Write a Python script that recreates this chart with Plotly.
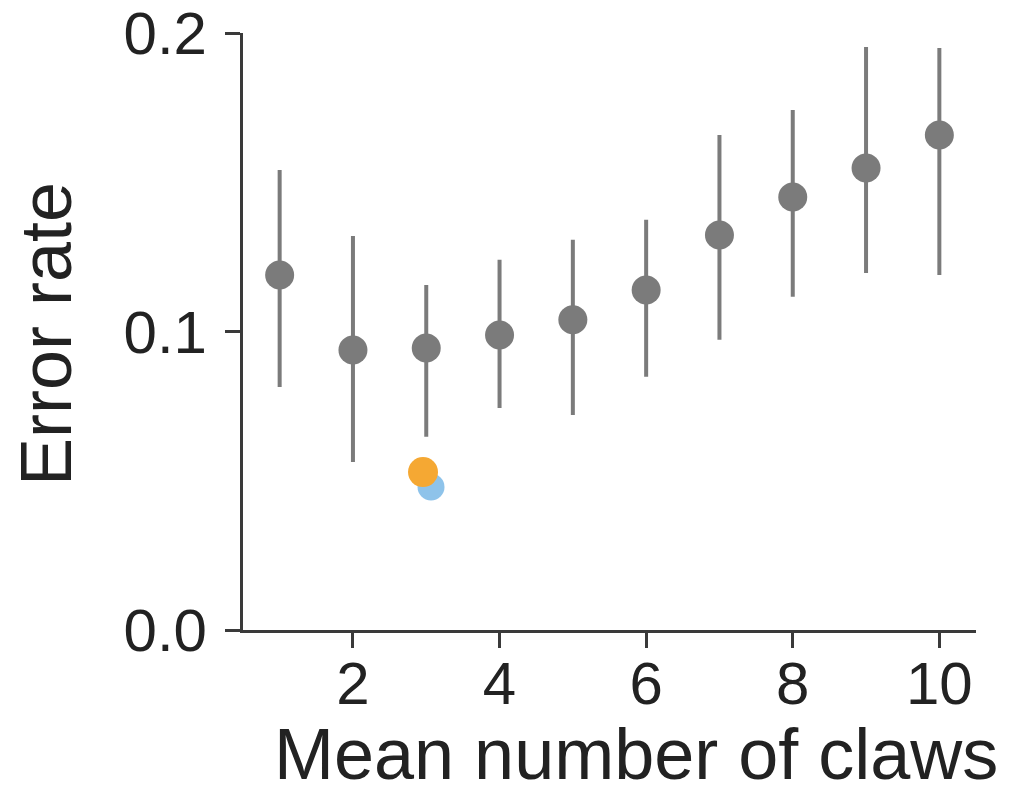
import plotly.graph_objects as go

claws = [1, 2, 3, 4, 5, 6, 7, 8, 9, 10]
error_rate = [0.1189, 0.0938, 0.0945, 0.0988, 0.1039, 0.1139, 0.1323, 0.1451, 0.1548, 0.1658]
upper = [0.1541, 0.1320, 0.1156, 0.1240, 0.1307, 0.1374, 0.1658, 0.1742, 0.1953, 0.1950]
lower = [0.0814, 0.0563, 0.0647, 0.0744, 0.0720, 0.0848, 0.0972, 0.1116, 0.1196, 0.1189]

blue_x = [3.065]
blue_y = [0.0479]
orange_x = [2.956]
orange_y = [0.0529]

x_ticks = [2, 4, 6, 8, 10]
y_ticks = [0.0, 0.1, 0.2]
y_ticklabels = ["0.0", "0.1", "0.2"]

err_plus = [u - v for u, v in zip(upper, error_rate)]
err_minus = [v - l for v, l in zip(error_rate, lower)]

gray = "#7b7b7b"
axis_col = "#3a3a3a"
text_col = "#222222"
font = "Liberation Sans, Arial, Helvetica, sans-serif"

fig = go.Figure()
fig.add_trace(go.Scatter(
    x=claws, y=error_rate, mode="markers",
    marker=dict(color=gray, size=29, line=dict(width=0)),
    error_y=dict(type="data", symmetric=False, array=err_plus, arrayminus=err_minus,
                 color=gray, thickness=4, width=0),
    showlegend=False, cliponaxis=False,
))
fig.add_trace(go.Scatter(
    x=blue_x, y=blue_y, mode="markers",
    marker=dict(color="#8ec3ea", size=27, line=dict(width=0)),
    showlegend=False, cliponaxis=False,
))
fig.add_trace(go.Scatter(
    x=orange_x, y=orange_y, mode="markers",
    marker=dict(color="#f5a833", size=30, line=dict(width=0)),
    showlegend=False, cliponaxis=False,
))

fig.update_layout(
    width=1023, height=797,
    margin=dict(l=243, r=47, t=33, b=167, pad=0),
    plot_bgcolor="white", paper_bgcolor="white",
    font=dict(family=font, color=text_col),
    xaxis=dict(
        range=[0.5, 10.5], tickvals=x_ticks, ticktext=[str(t) for t in x_ticks],
        automargin=False,
        showgrid=False, zeroline=False, showline=True, linecolor=axis_col, linewidth=3,
        ticks="outside", ticklen=15, tickwidth=3, tickcolor=axis_col,
        tickfont=dict(size=60, family=font, color=text_col),
        ticklabelstandoff=-16,
    ),
    yaxis=dict(
        range=[0, 0.2], tickvals=y_ticks, ticktext=y_ticklabels,
        automargin=False,
        showgrid=False, zeroline=False, showline=True, linecolor=axis_col, linewidth=3,
        ticks="outside", ticklen=15, tickwidth=3, tickcolor=axis_col,
        tickfont=dict(size=60, family=font, color=text_col),
        ticklabelstandoff=6,
    ),
    annotations=[
        dict(text="Mean number of claws", xref="paper", yref="paper",
             x=(636 - 243) / 733, y=-(796 - 630) / 597, xanchor="center", yanchor="bottom",
             showarrow=False, font=dict(size=72, family=font, color=text_col)),
        dict(text="Error rate", xref="paper", yref="paper", textangle=-90,
             x=(46 - 243) / 733, y=(630 - 334) / 597, xanchor="center", yanchor="middle",
             showarrow=False, font=dict(size=72, family=font, color=text_col)),
    ],
)

fig.write_html(
    "out.html",
    config={"displayModeBar": False},
    post_script="document.body.style.margin='0';document.body.style.overflow='hidden';",
)
